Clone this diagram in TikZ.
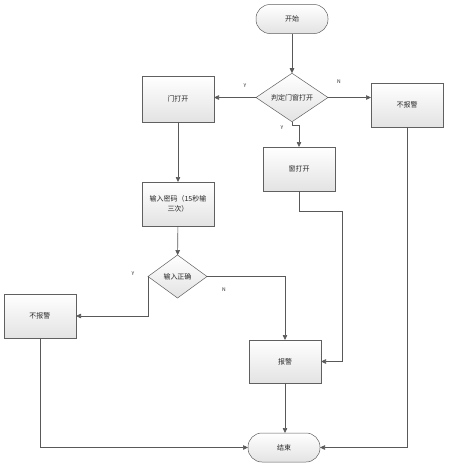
\documentclass[tikz,border=0pt]{standalone}
\usepackage{fontspec}
\newfontfamily\cjk{Noto Sans CJK SC}
\usetikzlibrary{shapes.geometric,arrows.meta}
\begin{document}
\begin{tikzpicture}[x=1pt,y=-1pt,
  every node/.style={font=\cjk\fontsize{7}{10}\selectfont, text=black!85},
  box/.style={draw=gray!75!black, line width=0.5pt, top color=white, bottom color=gray!22,
    minimum width=72pt, minimum height=44pt, inner sep=1pt, align=center, outer sep=0pt},
  term/.style={box, rounded corners=14pt, minimum height=29pt},
  dec/.style={diamond, draw=gray!75!black, line width=0.5pt, top color=white, bottom color=gray!22,
    inner sep=0pt, outer sep=0pt},
  conn/.style={draw=black!65, line width=0.6pt, -{Triangle[length=5pt,width=4.5pt]}},
  lbl/.style={font=\cjk\fontsize{5}{6}\selectfont}]
\useasboundingbox (0,0) rectangle (451,467);
\node[term] (start) at (292,19) {开始};
\node[dec, minimum width=72pt, minimum height=41pt] (d1) at (292,97.5) {判定门窗打开};
\node[box, minimum height=46pt] (door) at (178,99) {门打开};
\node[box] (nr) at (407,105) {不报警};
\node[box] (win) at (299,169) {窗打开};
\node[box] (pwd) at (178,204) {输入密码（15秒输\\三次）};
\node[dec, minimum width=59pt, minimum height=43pt] (d2) at (177.5,276.5) {输入正确};
\node[box] (nl) at (40,316) {不报警};
\node[box, minimum height=43pt] (alarm) at (285,361.5) {报警};
\node[term] (end) at (284,447.5) {结束};
\coordinate (c1) at (342,211);

\draw[conn] (start) -- (d1);
\draw[conn] (d1.west) -- (d1.west -| door.east);
\draw[conn] (d1.east) -- (d1.east -| nr.west);
\draw[conn] (d1.south) -- ++(0,4) -| (win.north);
\draw[conn] (door) -- (pwd);
\draw[conn] (pwd) -- (d2);
\draw[conn] (d2.west) |- (nl.east);
\draw[conn] (d2.east) -| (alarm.north);
\draw[conn] (win.south) |- (c1) |- (alarm.east);
\draw[conn] (alarm.south) -- (alarm.south |- end.north);
\draw[conn] (nr.south) |- (end.east);
\draw[conn] (nl.south) |- (end.west);

\node[lbl] (l1) at (245,86) {Y};
\node[lbl] (l2) at (339,82) {N};
\node[lbl] (l3) at (282,128) {Y};
\node[lbl] (l4) at (133,274) {Y};
\node[lbl] (l5) at (224,290) {N};
\end{tikzpicture}
\end{document}
